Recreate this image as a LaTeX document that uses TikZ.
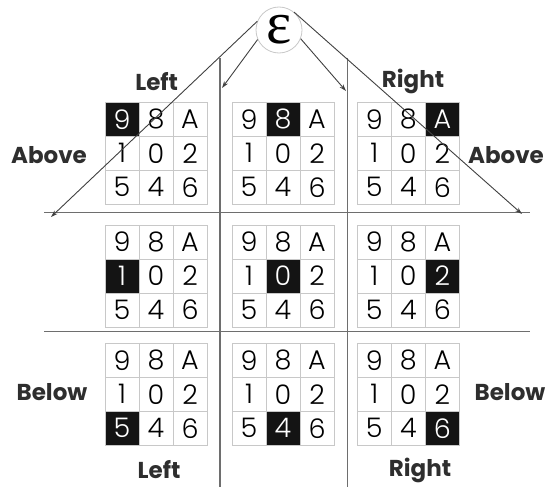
\documentclass[tikz,border=0pt]{standalone}
\usepackage{fontspec}
\usepackage{tikz}
\usepackage{xcolor}
\usetikzlibrary{arrows.meta}

\newfontfamily\cellfont{Poppins Light}
\newfontfamily\tagfont{Poppins}
\newfontfamily\epsfont{Liberation Serif}

\definecolor{cellgray}{HTML}{C8C8C8}
\definecolor{rulegray}{HTML}{6E6E6E}
\definecolor{arrowgray}{HTML}{404040}
\definecolor{taggray}{HTML}{2E2E2E}

\tikzset{
    cell/.style={draw=cellgray, line width=0.8pt, minimum size=34pt, inner sep=0pt,
        font=\cellfont\fontsize{27}{27}\selectfont},
    hicell/.style={cell, fill=black!92, text=white},
    tag/.style={text=taggray, inner sep=0pt, font=\tagfont\bfseries\fontsize{23}{23}\selectfont},
    divider/.style={rulegray, line width=1.4pt},
    pointer/.style={arrowgray, line width=0.9pt, -{Stealth[length=7pt, width=4.5pt]}}
}

\begin{document}
\begin{tikzpicture}[x=1pt, y=-1pt]
    % Fix the page to the 553 x 487 frame (y grows downwards)
    \useasboundingbox (0, 0) rectangle (553, 487);

    % Dividers between the rows and columns of blocks
    \draw[divider] (44, 212.7) -- (530, 212.7);% Upper horizontal
    \draw[divider] (44, 331.7) -- (530, 331.7);% Lower horizontal
    \draw[divider] (220, 58) -- (220, 487);% Left vertical
    \draw[divider] (347.3, 58) -- (347.3, 487);% Right vertical

    % Nine 3x3 blocks, block (r,c) has its cell (r,c) marked
    \foreach \gx [count=\c from 0] in {105, 232, 357.3} {
        \foreach \gy [count=\r from 0] in {102.3, 225, 343.3} {
            \foreach \t [count=\k from 0] in {9, 8, A, 1, 0, 2, 5, 4, 6} {
                \pgfmathtruncatemacro{\i}{div(\k, 3)}
                \pgfmathtruncatemacro{\j}{mod(\k, 3)}
                \ifnum\numexpr\i*3+\j\relax=\numexpr\r*3+\c\relax
                    \def\sty{hicell}\else\def\sty{cell}\fi
                \node[\sty] (g\r\c-\k) at ({\gx + 17 + 34*\j}, {\gy + 17 + 34*\i}) {\t};
            }
        }
    }

    % Side labels
    \node[tag] (leftTop) at (156.7, 81.7) {Left};
    \node[tag] (rightTop) at (413, 81.7) {Right};
    \node[tag] (aboveL) at (49, 155) {Above};
    \node[tag] (aboveR) at (506, 155) {Above};
    \node[tag] (belowL) at (52, 392) {Below};
    \node[tag] (belowR) at (510, 392) {Below};
    \node[tag] (leftBot) at (159, 470) {Left};
    \node[tag] (rightBot) at (420, 470) {Right};

    % Epsilon at the top
    \node[circle, draw=cellgray, line width=0.8pt, minimum size=46pt, inner sep=0pt,
        font=\epsfont\fontsize{60}{60}\selectfont] (eps) at (279, 30) {ε};

    % Arrow ends
    \coordinate (endAL) at (51, 217);
    \coordinate (endBL) at (222, 88);
    \coordinate (endBR) at (346, 91);
    \coordinate (endAR) at (522, 214);

    % Arrows out of epsilon
    \draw[pointer] (eps.158) -- (endAL);
    \draw[pointer] (eps.204) -- (endBL);
    \draw[pointer] (eps.338) -- (endBR);
    \draw[pointer] (eps.50) -- (endAR);
\end{tikzpicture}
\end{document}
